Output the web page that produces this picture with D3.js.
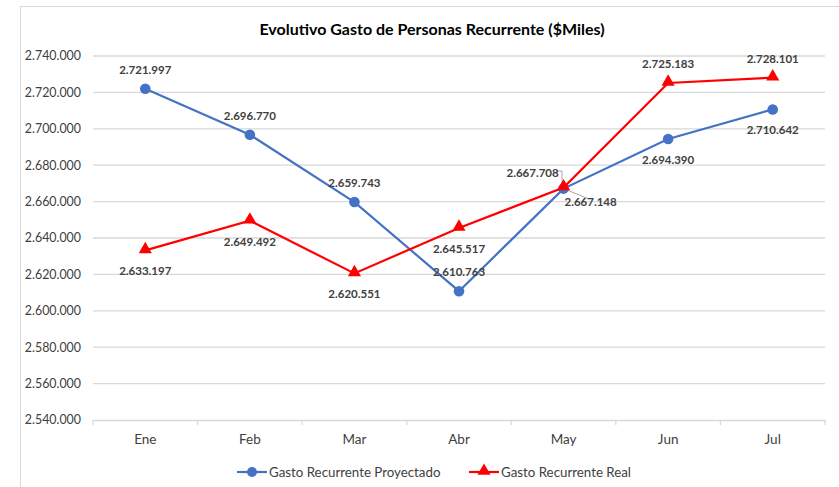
<!DOCTYPE HTML>
<html>
<head>
<meta charset="utf-8">
<script src="https://d3js.org/d3.v7.min.js"></script>
<style>
  body { margin: 0; background: #fff; }
  text { font-family: Lato, "Open Sans", sans-serif; }
</style>
</head>
<body>
<svg id="chart" width="839" height="487"></svg>
<script>
// data
const months = ["Ene", "Feb", "Mar", "Abr", "May", "Jun", "Jul"];
const proyectado = [2721997, 2696770, 2659743, 2610763, 2667148, 2694390, 2710642];
const real = [2633197, 2649492, 2620551, 2645517, 2667708, 2725183, 2728101];
const yTicks = [2540000, 2560000, 2580000, 2600000, 2620000, 2640000, 2660000, 2680000, 2700000, 2720000, 2740000];
const seriesNames = ["Gasto Recurrente Proyectado", "Gasto Recurrente Real"];

const blue = "#4472C4", red = "#FF0000";
const fmt = v => d3.format(",")(v).replace(/,/g, ".");

const svg = d3.select("#chart");

// chart frame
svg.append("rect")
  .attr("x", 20.5).attr("y", 6.5)
  .attr("width", 840).attr("height", 500)
  .attr("fill", "#fff").attr("stroke", "#d9d9d9");

svg.append("text")
  .attr("x", 432).attr("y", 35)
  .attr("text-anchor", "middle")
  .style("font-size", "16px").style("font-weight", "bold")
  .attr("fill", "#000")
  .text("Evolutivo Gasto de Personas Recurrente ($Miles)");

const x = d3.scaleBand().domain(months).range([93, 825]);
const y = d3.scaleLinear().domain([2540000, 2740000]).range([420, 56]);
const cx = d => x(d) + x.bandwidth() / 2;

// gridlines
svg.append("g").selectAll("line")
  .data(yTicks.slice(1))
  .join("line")
  .attr("x1", 93).attr("x2", 825)
  .attr("y1", d => y(d)).attr("y2", d => y(d))
  .attr("stroke", "#d9d9d9").attr("stroke-width", 1.3);

// y axis labels
const yAxis = d3.axisLeft(y).tickValues(yTicks).tickSize(0).tickPadding(12).tickFormat(fmt);
const gy = svg.append("g").attr("transform", "translate(93,0)").call(yAxis);
gy.select(".domain").remove();
gy.selectAll("text").style("font-size", "12.4px").attr("fill", "#404040").style("font-family", "Lato, sans-serif");

// x axis
const xAxis = d3.axisBottom(x).tickSize(0).tickPadding(14);
const gx = svg.append("g").attr("transform", "translate(0,420)").call(xAxis);
gx.select(".domain").attr("stroke", "#d9d9d9").attr("stroke-width", 1.3);
gx.selectAll("text").style("font-size", "13.5px").attr("fill", "#404040").style("font-family", "Lato, sans-serif");
gx.append("g").selectAll("line")
  .data(d3.range(months.length + 1))
  .join("line")
  .attr("x1", i => 93 + i * x.step()).attr("x2", i => 93 + i * x.step())
  .attr("y1", 0).attr("y2", 5)
  .attr("stroke", "#d9d9d9").attr("stroke-width", 1.3);

const line = d3.line().x((d, i) => cx(months[i])).y(d => y(d));

// leader lines for May labels
svg.append("path")
  .attr("d", d3.line()([[556, 171], [562, 171], [562, 183], [cx("May"), y(real[4])]]))
  .attr("fill", "none").attr("stroke", "#a6a6a6").attr("stroke-width", 1);
svg.append("path")
  .attr("d", d3.line()([[cx("May"), y(proyectado[4])], [589, 199]]))
  .attr("fill", "none").attr("stroke", "#a6a6a6").attr("stroke-width", 1);

// projected series
svg.append("path").datum(proyectado)
  .attr("d", line).attr("fill", "none")
  .attr("stroke", blue).attr("stroke-width", 2.2);
svg.append("g").selectAll("circle")
  .data(proyectado).join("circle")
  .attr("cx", (d, i) => cx(months[i])).attr("cy", d => y(d))
  .attr("r", 5.3).attr("fill", blue);

// real series
svg.append("path").datum(real)
  .attr("d", line).attr("fill", "none")
  .attr("stroke", red).attr("stroke-width", 2.2);
const tri = d3.symbol().type(d3.symbolTriangle).size(75);
svg.append("g").selectAll("path")
  .data(real).join("path")
  .attr("d", tri)
  .attr("transform", (d, i) => `translate(${cx(months[i])},${y(d) - 1})`)
  .attr("fill", red);

// data labels: [dx, dy] from the point
const blueOff = [[0, -15], [0, -15], [0, -15], [0, -15], [27, 17], [0, 25], [0, 25]];
const redOff = [[0, 25], [0, 25], [0, 25], [0, 25], [-31, -11], [0, -15], [0, -15]];
function labels(vals, offs) {
  svg.append("g").selectAll("text")
    .data(vals).join("text")
    .attr("x", (d, i) => cx(months[i]) + offs[i][0])
    .attr("y", (d, i) => y(d) + offs[i][1])
    .attr("text-anchor", "middle")
    .style("font-size", "11.5px").style("font-weight", "bold")
    .attr("fill", "#404040")
    .text(fmt);
}
labels(proyectado, blueOff);
labels(real, redOff);

// legend
const legend = [
  { name: seriesNames[0], color: blue, x: 237, marker: "circle" },
  { name: seriesNames[1], color: red, x: 469, marker: "triangle" }
];
const lg = svg.append("g").selectAll("g").data(legend).join("g")
  .attr("transform", d => `translate(${d.x},472)`);
lg.append("line").attr("x1", 0).attr("x2", 30)
  .attr("stroke", d => d.color).attr("stroke-width", 2.2);
lg.filter(d => d.marker === "circle").append("circle")
  .attr("cx", 15).attr("r", 5).attr("fill", blue);
lg.filter(d => d.marker === "triangle").append("path")
  .attr("d", tri).attr("transform", "translate(15,-1)").attr("fill", red);
lg.append("text").attr("x", 32).attr("y", 4.5)
  .style("font-size", "13.3px").attr("fill", "#404040")
  .text(d => d.name);
</script>
</body>
</html>
